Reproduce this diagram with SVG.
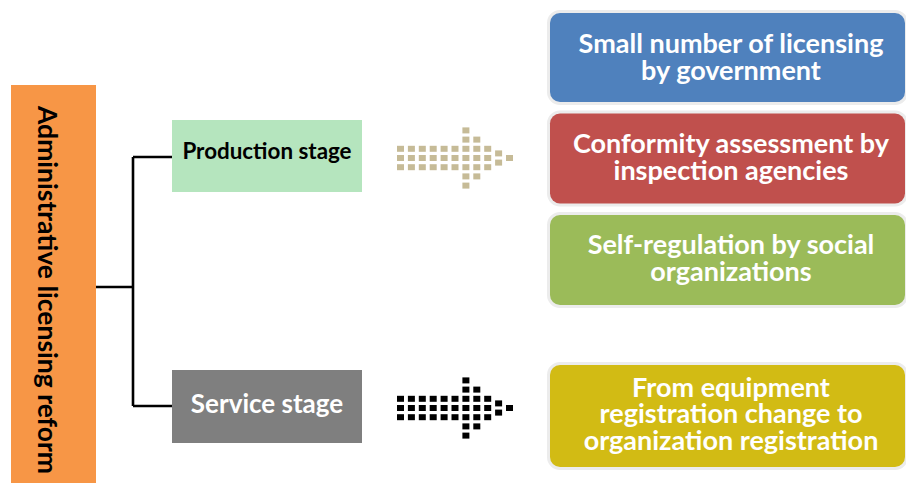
<svg xmlns="http://www.w3.org/2000/svg" width="906" height="483" viewBox="0 0 906 483">
<defs>
<style>
.t{font-family:Lato,"Open Sans","Liberation Sans",sans-serif;font-weight:bold;}
.w{fill:#ffffff;font-size:27px;text-anchor:middle;}
.box{stroke:#ececec;stroke-width:6;paint-order:stroke;}
.conn{stroke:#000000;stroke-width:2.6;fill:none;}
</style>
<g id="arrowShape">
<rect x="0" y="-9.2" width="7" height="6"/><rect x="0" y="0" width="7" height="6"/><rect x="0" y="9.2" width="7" height="6"/>
<rect x="10.9" y="-9.2" width="7" height="6"/><rect x="10.9" y="0" width="7" height="6"/><rect x="10.9" y="9.2" width="7" height="6"/>
<rect x="21.8" y="-9.2" width="7" height="6"/><rect x="21.8" y="0" width="7" height="6"/><rect x="21.8" y="9.2" width="7" height="6"/>
<rect x="32.7" y="-9.2" width="7" height="6"/><rect x="32.7" y="0" width="7" height="6"/><rect x="32.7" y="9.2" width="7" height="6"/>
<rect x="43.6" y="-9.2" width="7" height="6"/><rect x="43.6" y="0" width="7" height="6"/><rect x="43.6" y="9.2" width="7" height="6"/>
<rect x="54.5" y="-9.2" width="7" height="6"/><rect x="54.5" y="0" width="7" height="6"/><rect x="54.5" y="9.2" width="7" height="6"/>
<rect x="65.4" y="-27.6" width="7" height="6"/><rect x="65.4" y="-18.4" width="7" height="6"/><rect x="65.4" y="-9.2" width="7" height="6"/><rect x="65.4" y="0" width="7" height="6"/><rect x="65.4" y="9.2" width="7" height="6"/><rect x="65.4" y="18.4" width="7" height="6"/><rect x="65.4" y="27.6" width="7" height="6"/>
<rect x="76.3" y="-18.4" width="7" height="6"/><rect x="76.3" y="-9.2" width="7" height="6"/><rect x="76.3" y="0" width="7" height="6"/><rect x="76.3" y="9.2" width="7" height="6"/><rect x="76.3" y="18.4" width="7" height="6"/>
<rect x="87.2" y="-9.2" width="7" height="6"/><rect x="87.2" y="0" width="7" height="6"/><rect x="87.2" y="9.2" width="7" height="6"/>
<rect x="98.1" y="-4.6" width="7" height="6"/><rect x="98.1" y="4.6" width="7" height="6"/>
<rect x="109" y="0" width="7" height="6"/>
</g>
</defs>
<rect width="906" height="483" fill="#ffffff"/>

<g id="connectors">
<path class="conn" d="M96 287 H133 M133 157 V406 M133 157 H172 M133 406 H172"/>
</g>

<g id="root">
<rect x="11" y="85" width="85" height="400" fill="#f79646"/>
<text class="t" font-size="26.5" fill="#000000" text-anchor="middle" transform="translate(38 290) rotate(90)">Administrative licensing reform</text>
</g>

<g id="production">
<rect x="172" y="120" width="190" height="72" fill="#b5e5be"/>
<text class="t" x="267" y="159" font-size="22.4" fill="#000000" text-anchor="middle">Production stage</text>
</g>

<g id="service">
<rect x="172" y="370" width="190" height="73" fill="#7f7f7f"/>
<text class="t" x="267" y="413" font-size="26" fill="#ffffff" text-anchor="middle">Service stage</text>
</g>

<g id="arrow1" fill="#c6bb97">
<use href="#arrowShape" x="397" y="155"/>
</g>
<g id="arrow2" fill="#000000">
<use href="#arrowShape" x="397" y="405"/>
</g>

<g id="gov">
<rect class="box" x="550" y="13" width="355" height="89" rx="10" fill="#4f81bd"/>
<text class="t w" x="731" y="52.7">Small number of licensing</text>
<text class="t w" x="731" y="80">by government</text>
</g>

<g id="conformity">
<rect class="box" x="550" y="113.5" width="355" height="90" rx="10" fill="#c0504d"/>
<text class="t w" x="731" y="153.3">Conformity assessment by</text>
<text class="t w" x="731" y="180">inspection agencies</text>
</g>

<g id="selfreg">
<rect class="box" x="550" y="215" width="355" height="90" rx="10" fill="#9bbb59"/>
<text class="t w" x="731" y="254.3">Self-regulation by social</text>
<text class="t w" x="731" y="280.7">organizations</text>
</g>

<g id="registration">
<rect class="box" x="550" y="365" width="355" height="102" rx="10" fill="#d2bb14"/>
<text class="t w" x="731" y="396.7">From equipment</text>
<text class="t w" x="731" y="422.7">registration change to</text>
<text class="t w" x="731" y="450">organization registration</text>
</g>
</svg>
